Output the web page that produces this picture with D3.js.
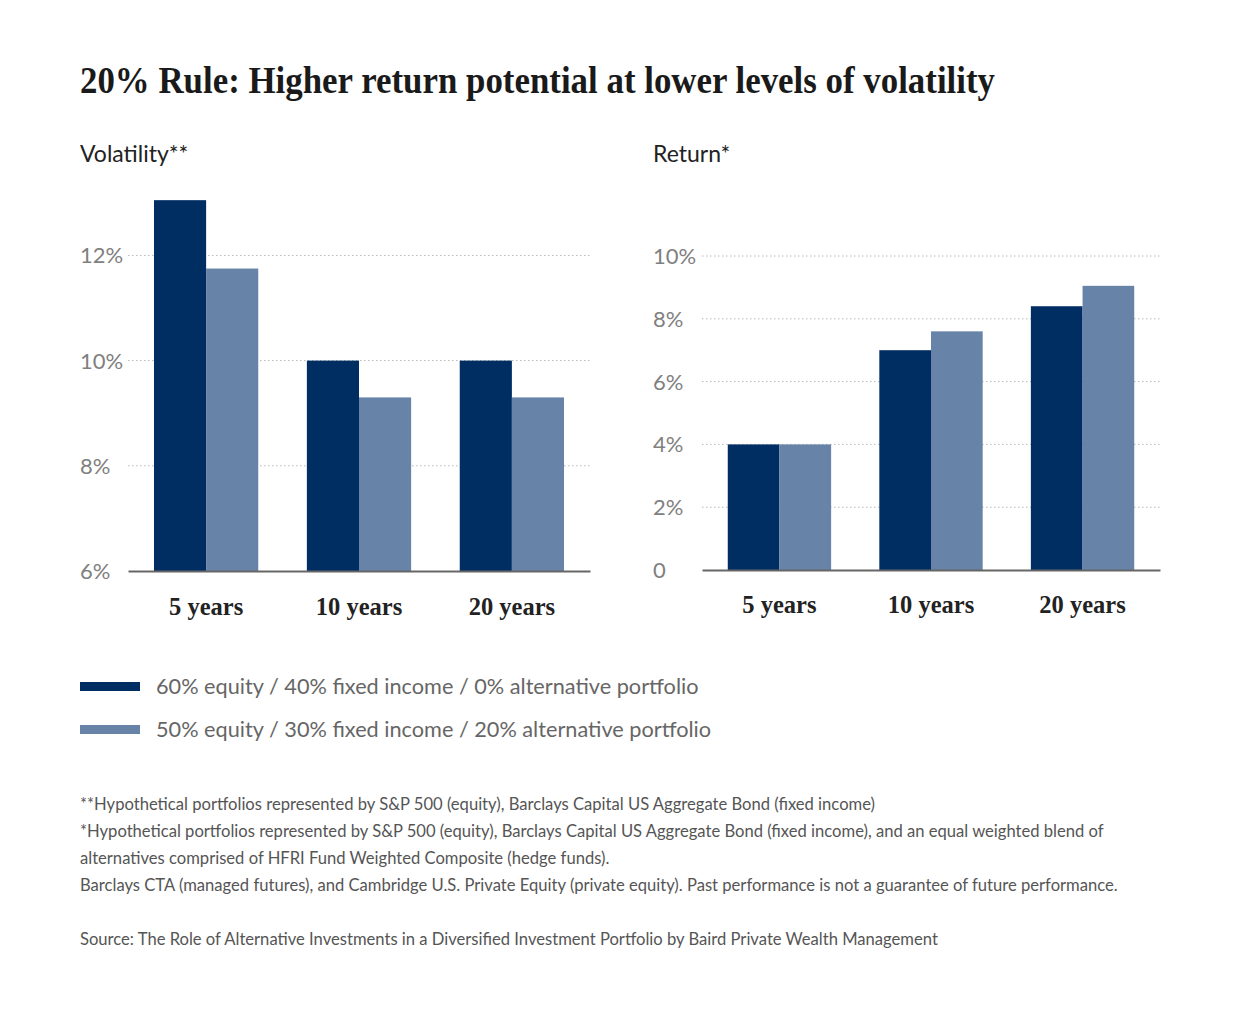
<!DOCTYPE html>
<html>
<head>
<meta charset="utf-8">
<script src="https://cdn.jsdelivr.net/npm/d3@7"></script>
<style>
  body { margin: 0; background: #fff; }
</style>
</head>
<body>
<div id="chart"></div>
<script>
const categories = ['5 years', '10 years', '20 years'];
const seriesNames = [
  '60% equity / 40% fixed income / 0% alternative portfolio',
  '50% equity / 30% fixed income / 20% alternative portfolio'
];
const volatility6040 = [13.05, 10.0, 10.0];
const volatility5030 = [11.75, 9.3, 9.3];
const return6040 = [4.0, 7.0, 8.4];
const return5030 = [4.0, 7.6, 9.05];
const volatilityTicks = [6, 8, 10, 12];
const returnTicks = [0, 2, 4, 6, 8, 10];
const footnotes = [
  '**Hypothetical portfolios represented by S&P 500 (equity), Barclays Capital US Aggregate Bond (fixed income)',
  '*Hypothetical portfolios represented by S&P 500 (equity), Barclays Capital US Aggregate Bond (fixed income), and an equal weighted blend of',
  'alternatives comprised of HFRI Fund Weighted Composite (hedge funds).',
  'Barclays CTA (managed futures), and Cambridge U.S. Private Equity (private equity). Past performance is not a guarantee of future performance.'
];
const sourceNote = 'Source: The Role of Alternative Investments in a Diversified Investment Portfolio by Baird Private Wealth Management';

const width = 1240;
const height = 1013;
const colors = ['#002d62', '#6783a8'];
const sansFont = 'Lato, "Noto Sans", sans-serif';
const serifFont = '"Liberation Serif", "DejaVu Serif", serif';

const svg = d3.select('#chart')
  .append('svg')
  .attr('width', width)
  .attr('height', height);

// title
svg.append('text')
  .text('20% Rule: Higher return potential at lower levels of volatility')
  .attr('x', 80)
  .attr('y', 93)
  .attr('font-family', serifFont)
  .attr('font-weight', 'bold')
  .attr('font-size', 38)
  .attr('textLength', 915)
  .attr('lengthAdjust', 'spacingAndGlyphs')
  .style('fill', '#1a1a1a');

function drawPanel(opts) {
  const { title, titleX, labelX, xRange, yDomain, yRange, ticks, a, b, format, catY } = opts;
  const g = svg.append('g');

  g.append('text')
    .text(title)
    .attr('x', titleX)
    .attr('y', 162)
    .attr('font-family', sansFont)
    .attr('font-size', 23)
    .style('fill', '#222');

  const x = d3.scaleBand()
    .domain(categories)
    .range(xRange)
    .paddingInner(0.318)
    .paddingOuter(0.17);
  const xInner = d3.scaleBand()
    .domain([0, 1])
    .range([0, x.bandwidth()]);
  const y = d3.scaleLinear()
    .domain(yDomain)
    .range(yRange);

  // dotted grid lines
  g.selectAll('.grid')
    .data(ticks.filter(t => t !== yDomain[0]))
    .enter()
    .append('line')
    .attr('x1', xRange[0])
    .attr('x2', xRange[1])
    .attr('y1', d => y(d))
    .attr('y2', d => y(d))
    .attr('stroke', '#b8b8b8')
    .attr('stroke-width', 1)
    .attr('stroke-dasharray', '1.5,2.5');

  // tick labels (left aligned)
  g.selectAll('.tickLabel')
    .data(ticks)
    .enter()
    .append('text')
    .text(format)
    .attr('x', labelX)
    .attr('y', d => y(d) + 8)
    .attr('font-family', sansFont)
    .attr('font-size', 22)
    .style('fill', '#808080');

  const rows = categories.map((c, i) => ({ cat: c, values: [a[i], b[i]] }));
  const groups = g.selectAll('.group')
    .data(rows)
    .enter()
    .append('g')
    .attr('transform', d => `translate(${x(d.cat)},0)`);

  groups.selectAll('rect')
    .data(d => d.values)
    .enter()
    .append('rect')
    .attr('x', (d, i) => xInner(i))
    .attr('width', xInner.bandwidth())
    .attr('y', d => y(d))
    .attr('height', d => y(yDomain[0]) - y(d))
    .style('fill', (d, i) => colors[i]);

  // baseline axis
  const axis = d3.axisBottom(x).tickSize(0).tickPadding(0);
  const gAxis = g.append('g')
    .attr('transform', `translate(0,${y(yDomain[0])})`)
    .call(axis);
  gAxis.select('.domain')
    .attr('stroke', '#666')
    .attr('stroke-width', 2);
  gAxis.selectAll('.tick text')
    .attr('y', catY - y(yDomain[0]))
    .attr('dy', 0)
    .attr('font-family', serifFont)
    .attr('font-weight', 'bold')
    .attr('font-size', 24.5)
    .style('fill', '#222');
}

drawPanel({
  title: 'Volatility**',
  titleX: 80,
  labelX: 80,
  xRange: [128, 590],
  yDomain: [6, 13.2],
  yRange: [571, 571 - 7.2 * 52.6],
  ticks: volatilityTicks,
  a: volatility6040,
  b: volatility5030,
  format: d => d + '%',
  catY: 615
});

drawPanel({
  title: 'Return*',
  titleX: 653,
  labelX: 653,
  xRange: [702, 1160],
  yDomain: [0, 10],
  yRange: [570, 256],
  ticks: returnTicks,
  a: return6040,
  b: return5030,
  format: d => d === 0 ? '0' : d + '%',
  catY: 613
});

// legend
const legend = svg.append('g').attr('transform', 'translate(80,686)');
legend.selectAll('rect')
  .data(seriesNames)
  .enter()
  .append('rect')
  .attr('x', 0)
  .attr('y', (d, i) => i * 43 - 4)
  .attr('width', 60)
  .attr('height', 9)
  .style('fill', (d, i) => colors[i]);
legend.selectAll('text')
  .data(seriesNames)
  .enter()
  .append('text')
  .text(d => d)
  .attr('x', 76)
  .attr('y', (d, i) => i * 43 + 8)
  .attr('font-family', sansFont)
  .attr('font-size', 21.7)
  .style('fill', '#666');

// footnotes
svg.selectAll('.footnote')
  .data(footnotes)
  .enter()
  .append('text')
  .text(d => d)
  .attr('x', 80)
  .attr('y', (d, i) => 810 + i * 27)
  .attr('font-family', sansFont)
  .attr('font-size', 16.6)
  .style('fill', '#555');

svg.append('text')
  .text(sourceNote)
  .attr('x', 80)
  .attr('y', 945)
  .attr('font-family', sansFont)
  .attr('font-size', 16.6)
  .style('fill', '#555');
</script>
</body>
</html>
